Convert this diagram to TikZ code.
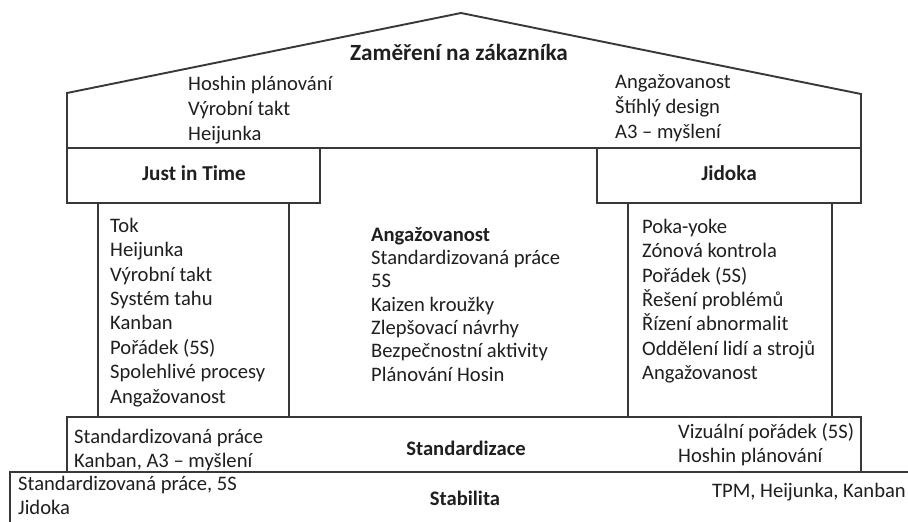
\documentclass[tikz,border=0pt]{standalone}
\usepackage{fontspec}
\setmainfont{Carlito}
\begin{document}
\begin{tikzpicture}[x=1pt,y=-1pt,
  frame/.style={draw=black!78,line width=1.9pt,line join=miter},
  txt/.style={inner sep=0pt,anchor=north west,align=left,text=black!88,
    font=\fontsize{20.6}{24.4}\selectfont},
  roofTxt/.style={txt,font=\fontsize{20.6}{25}\selectfont},
  midTxt/.style={txt,font=\fontsize{20.6}{23.3}\selectfont},
  title/.style={inner sep=0pt,anchor=base,text=black!88,
    font=\fontsize{20.6}{24}\selectfont\bfseries},
  headTxt/.style={title,font=\fontsize{21.2}{24}\selectfont\bfseries}]
\useasboundingbox (0,0) rectangle (908,522);
\fill[white] (0,0) rectangle (908,522);
\clip (0,0) rectangle (908,522);

% roof
\draw[frame] (67,148) -- (67,93) -- (461,13) -- (861,94) -- (861,148) -- cycle;
% pillar heads
\draw[frame] (67,148) rectangle (320,203);
\draw[frame] (597,148) rectangle (861,203);
% pillars
\draw[frame] (98,203) rectangle (289,417);
\draw[frame] (628,203) rectangle (832,417);
% foundation layers
\draw[frame] (67,417) rectangle (861,472);
\draw[frame] (10,472) rectangle (930,540);

% roof texts
\node[title,font=\fontsize{23.2}{24}\selectfont\bfseries] (zak) at (459,60) {Zaměření na zákazníka};
\node[roofTxt] (roofL) at (188,90-17.5) {\strut Hoshin plánování\\Výrobní takt\\Heijunka};
\node[roofTxt] (roofR) at (615,88-17.5) {\strut Angažovanost\\Štíhlý design\\A3 – myšlení};

% pillar heads
\node[headTxt] (jit) at (194,180) {Just in Time};
\node[headTxt] (jid) at (729,180) {Jidoka};

% pillar contents
\node[txt] (jitList) at (110,232-17.08) {\strut Tok\\Heijunka\\Výrobní takt\\Systém tahu\\Kanban\\Pořádek (5S)\\Spolehlivé procesy\\Angažovanost};
\node[midTxt] (midList) at (371,241-16.31) {\strut\textbf{Angažovanost}\\Standardizovaná práce\\5S\\Kaizen kroužky\\Zlepšovací návrhy\\Bezpečnostní aktivity\\Plánování Hosin};
\node[txt] (jidList) at (642,233-17.08) {\strut Poka-yoke\\Zónová kontrola\\Pořádek (5S)\\Řešení problémů\\Řízení abnormalit\\Oddělení lidí a strojů\\Angažovanost};

% standardisation layer
\node[txt] (stdL) at (74,443-17.08) {\strut Standardizovaná práce\\Kanban, A3 – myšlení};
\node[title] (std) at (466,455) {Standardizace};
\node[txt] (stdR) at (678,438-17.08) {\strut Vizuální pořádek (5S)\\Hoshin plánování};

% stability layer
\node[txt] (stabL) at (18,490-17.08) {\strut Standardizovaná práce, 5S\\Jidoka};
\node[title] (stab) at (465,505) {Stabilita};
\node[txt,anchor=base east] (stabR) at (906,497) {TPM, Heijunka, Kanban};
\end{tikzpicture}
\end{document}
